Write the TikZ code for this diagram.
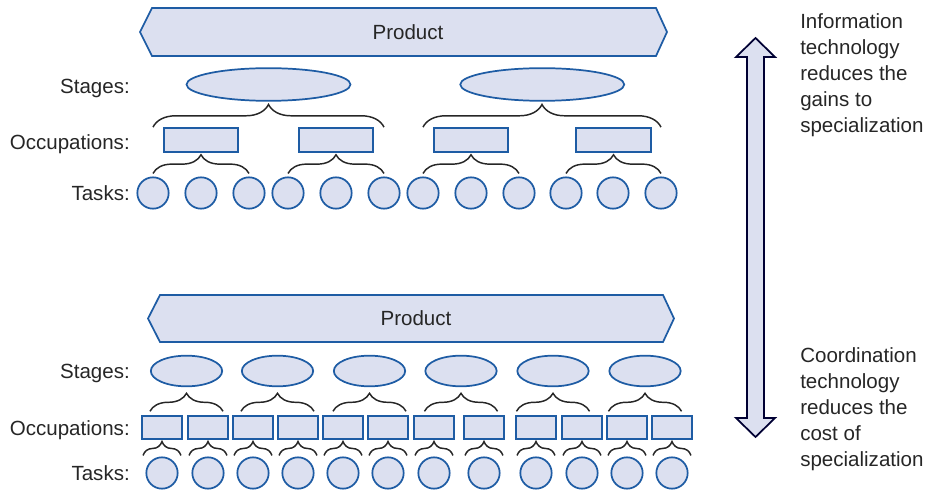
\documentclass[tikz,border=0pt]{standalone}
\usepackage{fontspec}
\setmainfont{Liberation Sans}
\usetikzlibrary{shapes.geometric,decorations.pathreplacing,calc}
\definecolor{boxfill}{RGB}{220,224,240}
\definecolor{boxline}{RGB}{30,92,164}
\definecolor{inkgray}{RGB}{38,38,38}
\tikzset{>=stealth,
  banner/.style={fill=boxfill,draw=boxline,line width=1.3pt},
  task/.style={circle,fill=boxfill,draw=boxline,line width=1.3pt,minimum size=23.5pt,inner sep=0pt},
  occwide/.style={rectangle,fill=boxfill,draw=boxline,line width=1.3pt,minimum width=56pt,minimum height=18pt,inner sep=0pt},
  occnarrow/.style={rectangle,fill=boxfill,draw=boxline,line width=1.3pt,minimum width=30pt,minimum height=17pt,inner sep=0pt},
  stagewide/.style={ellipse,fill=boxfill,draw=boxline,line width=1.3pt,minimum width=123pt,minimum height=24.5pt,inner sep=0pt},
  stagenarrow/.style={ellipse,fill=boxfill,draw=boxline,line width=1.3pt,minimum width=53.5pt,minimum height=23pt,inner sep=0pt},
  curly/.style={decorate,decoration={brace,amplitude=#1},draw=inkgray,line width=1.1pt},
  lab/.style={anchor=east,inner sep=0pt},
  note/.style={anchor=north west,align=left,inner sep=0pt}
}

\begin{document}
\begin{tikzpicture}[x=0.75pt,y=-0.75pt,font=\fontsize{15.4}{19.5}\selectfont,text=inkgray]
    \useasboundingbox (0,0) rectangle (927,491);

    % upper panel
    \filldraw[banner] (140,32)--(152,8)--(656,8)--(667,32)--(656,56)--(152,56)--cycle;
    \node (prodA) at (408,32) {Product};

    \foreach \x [count=\i] in {153,201,249,288,336,384,423,471,519,566,613,661}
      \node[task] (ta\i) at (\x,193) {};
    \foreach \i/\a/\b in {1/1/3,2/4/6,3/7/9,4/10/12}{
      \node[occwide] (oa\i) at ($(ta\a)!0.5!(ta\b)+(0,-53)$) {};
      \draw[curly=14pt] ($(ta\a.north)+(0,-3)$) -- ($(ta\b.north)+(0,-3)$);
    }
    \foreach \i/\a/\b/\p/\q in {1/1/2/1/6,2/3/4/7/12}{
      \node[stagewide] (sa\i) at ($(oa\a)!0.5!(oa\b)+(0,-55.5)$) {};
      \draw[curly=17pt] (ta\p |- oa\a.north) -- (ta\q |- oa\a.north);
    }

    \node[lab] (stA) at (130,88) {Stages:};
    \node[lab] (ocA) at (130,144) {Occupations:};
    \node[lab] (tkA) at (130,193) {Tasks:};

    % lower panel
    \filldraw[banner] (148,318.5)--(160,295)--(663,295)--(674,318.5)--(663,342)--(160,342)--cycle;
    \node (prodB) at (416,318) {Product};

    \foreach \x [count=\i] in {162,208,253,298,343,388,434,484,536,582,627,672}{
      \node[task] (tb\i) at (\x,473) {};
      \node[occnarrow] (ob\i) at ($(tb\i)+(0,-45.5)$) {};
      \draw[curly=10.5pt] ($(tb\i.north)+(-19,-1)$) -- ($(tb\i.north)+(19,-1)$);
    }
    \foreach \x [count=\i] in {186.5,277.5,369.5,461,553,645}{
      \node[stagenarrow] (sb\i) at (\x,371) {};
      \draw[curly=13.5pt] ($(sb\i.west |- ob1.north)+(0,-4)$) -- ($(sb\i.east |- ob1.north)+(0,-4)$);
    }

    \node[lab] (stB) at (130,373) {Stages:};
    \node[lab] (ocB) at (130,430) {Occupations:};
    \node[lab] (tkB) at (130,473) {Tasks:};

    % double arrow and side notes
    \filldraw[fill=boxfill,draw=black!80!blue,line width=1.3pt]
      (755.5,38)--(775,57)--(764,57)--(764,418)--(775,418)--(755.5,437)
      --(736,418)--(747,418)--(747,57)--(736,57)--cycle;

    \node[note] (itA) at (800,13) {Information\\technology\\reduces the\\gains to\\specialization};
    \node[note] (ctB) at (800,347) {Coordination\\technology\\reduces the\\cost of\\specialization};
\end{tikzpicture}
\end{document}
